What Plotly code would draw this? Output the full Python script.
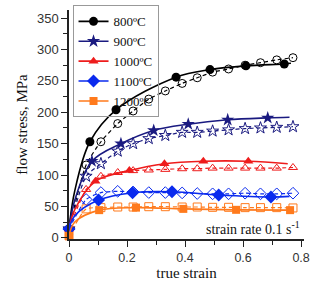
import plotly.graph_objects as go

# ---- data ----
labels = ["800ºC", "900ºC", "1000ºC", "1100ºC", "1200ºC"]
colors = ["#000000", "#1a1a80", "#ee1c1c", "#0a2aee", "#ff7a1c"]
sym_filled = ["circle", "star", "triangle-up", "diamond", "square"]
sym_open = ["circle-open", "star-open", "triangle-up-open", "diamond-open", "square-open"]
x_ticks = [0, 0.2, 0.4, 0.6, 0.8]
x_ticktext = ["0", "0.2", "0.4", "0.6", "0.8"]
y_ticks = [0, 50, 100, 150, 200, 250, 300, 350]

# solid curves (line points)
s800_lx = [0, 0.02, 0.072, 0.162, 0.369, 0.486, 0.61, 0.742, 0.765]
s800_ly = [14, 75, 153, 204, 256, 268, 274, 277, 278]
s900_lx = [0, 0.02, 0.079, 0.179, 0.292, 0.411, 0.547, 0.685, 0.76]
s900_ly = [14, 60, 122, 150, 171, 181, 188, 191, 192]
s1000_lx = [0, 0.02, 0.091, 0.208, 0.329, 0.463, 0.618, 0.754]
s1000_ly = [14, 45, 90, 107, 118, 122, 122, 118]
s1100_lx = [0, 0.02, 0.102, 0.219, 0.355, 0.516, 0.696, 0.76]
s1100_ly = [14, 35, 60, 71.8, 73.3, 68.2, 65, 66]
s1200_lx = [0, 0.02, 0.104, 0.231, 0.394, 0.576, 0.762]
s1200_ly = [3, 25, 44, 48, 46, 44.5, 44]

# solid markers
s800_mx = [0, 0.072, 0.162, 0.369, 0.486, 0.61, 0.742]
s800_my = [14, 153, 204, 256, 268, 274, 277]
s900_mx = [0, 0.079, 0.179, 0.292, 0.411, 0.547, 0.685]
s900_my = [14, 122, 150, 171, 181, 188, 191]
s1000_mx = [0, 0.091, 0.208, 0.329, 0.463, 0.618]
s1000_my = [14, 90, 107, 118, 122, 122]
s1100_mx = [0, 0.102, 0.219, 0.355, 0.516, 0.696]
s1100_my = [14, 60, 71.8, 73.3, 68.2, 65]
s1200_mx = [0, 0.104, 0.231, 0.394, 0.576, 0.762]
s1200_my = [3, 44, 48, 46, 44.5, 44]

# dashed series (open markers)
d_x = [0, 0.059, 0.11, 0.168, 0.221, 0.275, 0.332, 0.39, 0.442, 0.495, 0.55, 0.607, 0.66, 0.716, 0.772]
d800_y = [14, 116, 153, 182, 202, 221, 234, 246, 255, 264, 269, 275, 279, 283.5, 287]
d900_y = [14, 98, 118, 138, 150, 158, 163, 168, 168, 170, 172, 174, 175, 176, 177]
d1000_y = [14, 77, 98, 104, 107, 108, 109, 110, 110, 111, 111, 111, 111, 111, 112]
d1100_y = [14, 61, 72, 74, 73, 72, 72, 71.5, 70.5, 70, 70, 71, 70, 70, 71]
d1200_y = [3, 46, 48, 49, 49, 49.5, 49.5, 49, 49, 48.5, 48.5, 48, 48, 48, 47.5]

solid_lines = [(s800_lx, s800_ly), (s900_lx, s900_ly), (s1000_lx, s1000_ly), (s1100_lx, s1100_ly), (s1200_lx, s1200_ly)]
solid_marks = [(s800_mx, s800_my), (s900_mx, s900_my), (s1000_mx, s1000_my), (s1100_mx, s1100_my), (s1200_mx, s1200_my)]
dashed = [d800_y, d900_y, d1000_y, d1100_y, d1200_y]
msize = [9, 10, 9, 10, 8]
osize = [8, 9, 8, 9, 8]

fig = go.Figure()
for i in range(5):
    fig.add_trace(go.Scatter(x=d_x, y=dashed[i], mode="lines+markers",
                             line=dict(color=colors[i], width=1.2, dash="4px,3px", shape="spline", smoothing=0.6),
                             marker=dict(symbol=sym_open[i], size=osize[i], color=colors[i], line=dict(width=1)),
                             showlegend=False, cliponaxis=False))
for i in range(5):
    lx, ly = solid_lines[i]
    fig.add_trace(go.Scatter(x=lx, y=ly, mode="lines",
                             line=dict(color=colors[i], width=1.6, shape="spline"),
                             showlegend=False, cliponaxis=False))
    mx, my = solid_marks[i]
    fig.add_trace(go.Scatter(x=mx, y=my, mode="markers", name=labels[i],
                             marker=dict(symbol=sym_filled[i], size=msize[i], color=colors[i]),
                             showlegend=False, cliponaxis=False))
    fig.add_trace(go.Scatter(x=[None], y=[None], mode="lines+markers", name=labels[i],
                             line=dict(color=colors[i], width=1.6),
                             marker=dict(symbol=sym_filled[i], size=msize[i], color=colors[i])))

fig.add_annotation(text="strain rate 0.1 s<sup>-1</sup>", xref="paper", x=0.99, xanchor="right",
                   yref="y", y=16, yanchor="middle", showarrow=False,
                   font=dict(family="Liberation Serif", size=14, color="#111"))

axis_common = dict(showline=True, linecolor="#222", linewidth=1.5, ticks="outside", ticklen=6,
                   tickwidth=1.3, tickcolor="#222", showgrid=False, zeroline=False, automargin=False,
                   tickfont=dict(family="Liberation Sans", size=13, color="#333"))

fig.update_layout(
    width=310, height=284,
    margin=dict(l=69, r=6, t=5, b=45),
    paper_bgcolor="white", plot_bgcolor="white",
    xaxis=dict(range=[0, 0.81], tickvals=x_ticks, ticktext=x_ticktext, ticklabeloverflow="allow",
               minor=dict(dtick=0.1, ticks="outside", ticklen=4, tickcolor="#222"),
               title=dict(text="true strain", font=dict(family="Liberation Serif", size=15, color="#111"), standoff=2),
               **axis_common),
    yaxis=dict(range=[-2, 363], tickvals=y_ticks,
               minor=dict(dtick=25, ticks="outside", ticklen=4, tickcolor="#222"),
               title=dict(text="flow stress, MPa", font=dict(family="Liberation Serif", size=15, color="#111"), standoff=6),
               **axis_common),
    legend=dict(x=0.015, y=1.02, xanchor="left", yanchor="top", bgcolor="rgba(255,255,255,0)",
                bordercolor="#999", borderwidth=1, tracegroupgap=0,
                font=dict(family="Liberation Serif", size=13, color="#111"),
                itemwidth=30),
    showlegend=True,
)
fig.update_xaxes(tickfont_size=12.5)

post_js = (
    "document.body.style.margin='0';document.body.style.overflow='hidden';"
    "var gd=document.getElementById('{plot_id}');"
    "function showTicks(){document.querySelectorAll('.xtick, .xtick text').forEach(function(t){"
    "t.style.display='';t.style.opacity='1';t.removeAttribute('display');});}"
    "showTicks();if(gd&&gd.on){gd.on('plotly_afterplot',showTicks);}"
)

fig.write_html("out.html", config={"displayModeBar": False}, post_script=post_js)
